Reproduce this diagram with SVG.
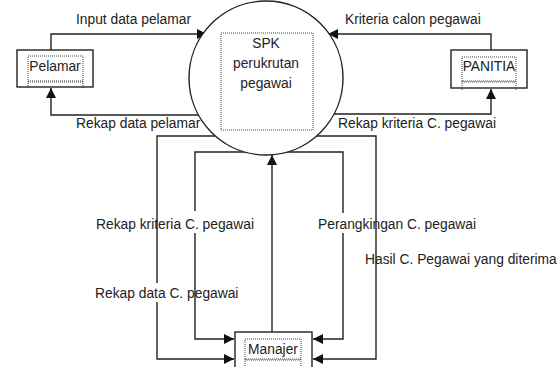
<svg xmlns="http://www.w3.org/2000/svg" width="559" height="367" viewBox="0 0 559 367">
<defs>
<marker id="arr" markerUnits="userSpaceOnUse" markerWidth="10" markerHeight="10" viewBox="0 0 10 10" refX="10" refY="5" orient="auto">
<path d="M0,0 L10,5 L0,10 z" fill="#111"/>
</marker>
<style>
.ln{fill:none;stroke:#222;stroke-width:1.4}
.bx{fill:#fff;stroke:#222;stroke-width:1.4}
.dt{fill:none;stroke:#444;stroke-width:1;stroke-dasharray:1,1}
text{font-family:"Liberation Sans",Arial,sans-serif;font-size:13.8px;fill:#222}
.c{text-anchor:middle}
</style>
</defs>
<rect width="559" height="367" fill="#fff"/>
<g id="connectors">
<polyline class="ln" points="51,50 51,34 207,34" marker-end="url(#arr)"/>
<polyline class="ln" points="200,115 51,115 51,88" marker-end="url(#arr)"/>
<polyline class="ln" points="491,50 491,34 328,34" marker-end="url(#arr)"/>
<polyline class="ln" points="334,114 491,114 491,89" marker-end="url(#arr)"/>
<path class="ln" d="M215,136 H157 V283 M157,302 V359 H234" marker-end="url(#arr)"/>
<path class="ln" d="M245,152 H195 V211 M195,233 V339 H234" marker-end="url(#arr)"/>
<polyline class="ln" points="272,332 272,155" marker-end="url(#arr)"/>
<path class="ln" d="M287,152 H343 V213 M343,233 V339 H313" marker-end="url(#arr)"/>
<polyline class="ln" points="316,136 376,136 376,359 313,359" marker-end="url(#arr)"/>
</g>
<g id="labels">
<text x="76" y="24">Input data pelamar</text>
<text x="76" y="128">Rekap data pelamar</text>
<text x="345" y="24">Kriteria calon pegawai</text>
<text x="338" y="128">Rekap kriteria C. pegawai</text>
<text x="96" y="229">Rekap kriteria C. pegawai</text>
<text x="95" y="298">Rekap data C. pegawai</text>
<text x="318" y="229">Perangkingan C. pegawai</text>
<text x="365" y="264">Hasil C. Pegawai yang diterima</text>
</g>
<g id="spk">
<circle cx="266" cy="78" r="77" class="bx"/>
<rect x="221" y="33" width="92" height="97" class="dt"/>
<text x="266" y="48" class="c">SPK</text>
<text x="266" y="68" class="c">perukrutan</text>
<text x="266" y="88" class="c">pegawai</text>
</g>
<g id="pelamar">
<rect x="17" y="50" width="76" height="37" class="bx"/>
<rect x="28" y="56" width="55" height="25" class="dt"/>
<path class="dt" d="M28,82 H83 M28,81 V89 M83,81 V89"/>
<text x="55" y="71" class="c">Pelamar</text>
</g>
<g id="panitia">
<rect x="451" y="50" width="76" height="38" class="bx"/>
<rect x="462" y="57" width="54" height="24" class="dt"/>
<path class="dt" d="M462,82 H516 M462,81 V90 M516,81 V90"/>
<text x="489" y="71" class="c">PANITIA</text>
</g>
<g id="manajer">
<rect x="235" y="332" width="77" height="40" class="bx"/>
<rect x="245" y="339" width="56" height="20" class="dt"/>
<path class="dt" d="M245,360 H301 M245,359 V367 M301,359 V367"/>
<text x="273" y="354" class="c">Manajer</text>
</g>
</svg>
